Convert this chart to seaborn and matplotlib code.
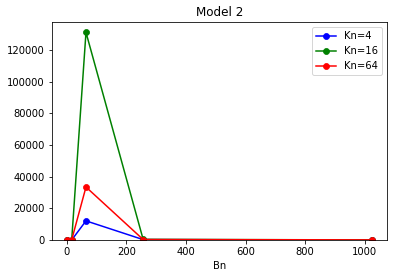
import matplotlib
matplotlib.use("Agg")
import matplotlib.pyplot as plt
import pandas as pd
import seaborn as sns

bn = [1, 16, 64, 256, 1024]
kn4 = [0, 30, 12100, 250, 40]
kn16 = [0, 60, 131300, 400, 60]
kn64 = [0, 100, 33500, 300, 80]

series = {"Kn=4": (kn4, "blue"), "Kn=16": (kn16, "green"), "Kn=64": (kn64, "red")}

fig, ax = plt.subplots(figsize=(394 / 72, 278 / 72), dpi=72)
plt.subplots_adjust(left=52 / 394, right=387 / 394, top=1 - 22 / 278, bottom=1 - 240 / 278)

for label, (vals, color) in series.items():
    df = pd.DataFrame({"Bn": bn, "val": vals})
    sns.lineplot(data=df, x="Bn", y="val", color=color, marker="o", markersize=6,
                 markeredgecolor=color, label=label, ax=ax)

ax.set_ylim(bottom=0)
ax.set_ylabel("")
ax.set_xlabel("Bn")
ax.set_title("Model 2")
ax.legend(loc="upper right")

plt.savefig("out.png", dpi=72)
